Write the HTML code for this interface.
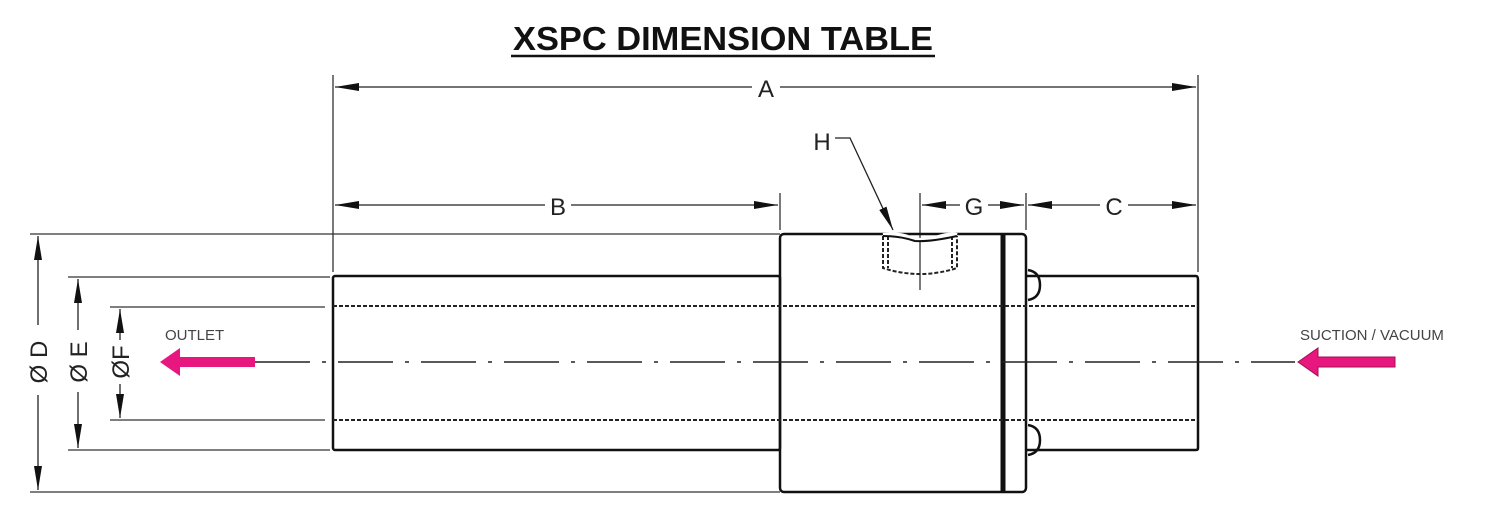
<!DOCTYPE html>
<html><head><style>
body{margin:0;background:#fff}
svg{display:block}
text{font-family:"Liberation Sans",sans-serif}
</style></head><body>
<svg width="1500" height="522" viewBox="0 0 1500 522" xmlns="http://www.w3.org/2000/svg">
<defs>
<marker id="ar" viewBox="0 0 24 8" refX="24" refY="4" markerWidth="24" markerHeight="8" markerUnits="userSpaceOnUse" orient="auto-start-reverse">
<path d="M0,0 L24,4 L0,8 z" fill="#111"/></marker>
</defs>
<text x="723" y="50" font-size="33" font-weight="bold" text-anchor="middle" fill="#111" textLength="420" lengthAdjust="spacingAndGlyphs">XSPC DIMENSION TABLE</text>
<line x1="511" y1="56" x2="935" y2="56" stroke="#111" stroke-width="2.5"/>
<g stroke="#333" stroke-width="1.3" fill="none">
<line x1="333" y1="75" x2="333" y2="272"/>
<line x1="1198" y1="75" x2="1198" y2="272"/>
<line x1="780" y1="193" x2="780" y2="230"/>
<line x1="920" y1="193" x2="920" y2="290"/>
<line x1="1026" y1="193" x2="1026" y2="230"/>
<line x1="30" y1="234" x2="780" y2="234"/>
<line x1="30" y1="492" x2="780" y2="492"/>
<line x1="68" y1="277" x2="330" y2="277"/>
<line x1="68" y1="450" x2="330" y2="450"/>
<line x1="110" y1="307" x2="325" y2="307"/>
<line x1="110" y1="420" x2="325" y2="420"/>
</g>
<g stroke="#222" stroke-width="1.3" fill="none">
<line x1="335" y1="87" x2="1196" y2="87" marker-start="url(#ar)" marker-end="url(#ar)"/>
<line x1="335" y1="205" x2="778" y2="205" marker-start="url(#ar)" marker-end="url(#ar)"/>
<line x1="922" y1="205" x2="1024" y2="205" marker-start="url(#ar)" marker-end="url(#ar)"/>
<line x1="1028" y1="205" x2="1196" y2="205" marker-start="url(#ar)" marker-end="url(#ar)"/>
<line x1="38" y1="236" x2="38" y2="490" marker-start="url(#ar)" marker-end="url(#ar)"/>
<line x1="78" y1="279" x2="78" y2="448" marker-start="url(#ar)" marker-end="url(#ar)"/>
<line x1="120" y1="309" x2="120" y2="418" marker-start="url(#ar)" marker-end="url(#ar)"/>
<polyline points="835,138 850,138 893,230" marker-end="url(#ar)"/>
</g>
<g font-size="24" fill="#222" text-anchor="middle">
<rect x="752" y="75" width="28" height="24" fill="#fff"/><text x="766" y="97">A</text>
<rect x="545" y="193" width="26" height="24" fill="#fff"/><text x="558" y="215">B</text>
<rect x="960" y="193" width="28" height="24" fill="#fff"/><text x="974" y="215">G</text>
<rect x="1100" y="193" width="28" height="24" fill="#fff"/><text x="1114" y="215">C</text>
<text x="822" y="150">H</text>
<rect x="26" y="325" width="24" height="70" fill="#fff"/>
<text transform="translate(47,362) rotate(-90)">Ø D</text>
<rect x="66" y="330" width="24" height="62" fill="#fff"/>
<text transform="translate(87,362) rotate(-90)">Ø E</text>
<rect x="108" y="340" width="24" height="44" fill="#fff"/>
<text transform="translate(129,362) rotate(-90)">ØF</text>
</g>
<g stroke="#111" stroke-width="2.5" fill="none">
<rect x="333" y="276" width="447" height="174" rx="2"/>
<rect x="780" y="234" width="246" height="258" rx="4"/>
<line x1="1003" y1="234" x2="1003" y2="492" stroke-width="5"/>
<path d="M1026,276 H1196 Q1198,276 1198,280 V448 Q1198,450 1196,450 H1026"/>
<path d="M1028,270 Q1040,272 1040,285 Q1040,298 1028,300"/>
<path d="M1028,425 Q1040,427 1040,440 Q1040,453 1028,455"/>
</g>
<g stroke="#222" stroke-width="2" stroke-dasharray="4,2" fill="none">
<line x1="333" y1="306" x2="1198" y2="306"/>
<line x1="333" y1="420" x2="1198" y2="420"/>
<path d="M883,236 V268 Q920,280 957,268 V236"/>
<path d="M888,236 V268 M952,236 V268"/>
</g>
<path d="M883,235 Q900,233 910,238 Q920,242 935,238 Q950,233 957,235" stroke="#fff" stroke-width="4" fill="none"/>
<path d="M883,236 Q900,236 915,241 Q930,242 957,236" stroke="#111" stroke-width="2" fill="none"/>
<line x1="255" y1="362" x2="1295" y2="362" stroke="#222" stroke-width="1.5" stroke-dasharray="55,12,4,12"/>
<path d="M160,362 L180,348 L180,357 L255,357 L255,367 L180,367 L180,376 z" fill="#e8177f"/>
<path d="M1298,362 L1318,348 L1318,357 L1395,357 L1395,367 L1318,367 L1318,376 z" fill="#e8177f" stroke="#a01050" stroke-width="1"/>
<text x="165" y="340" font-size="15" fill="#444">OUTLET</text>
<text x="1300" y="340" font-size="15" fill="#444">SUCTION / VACUUM</text>
</svg>
</body></html>
